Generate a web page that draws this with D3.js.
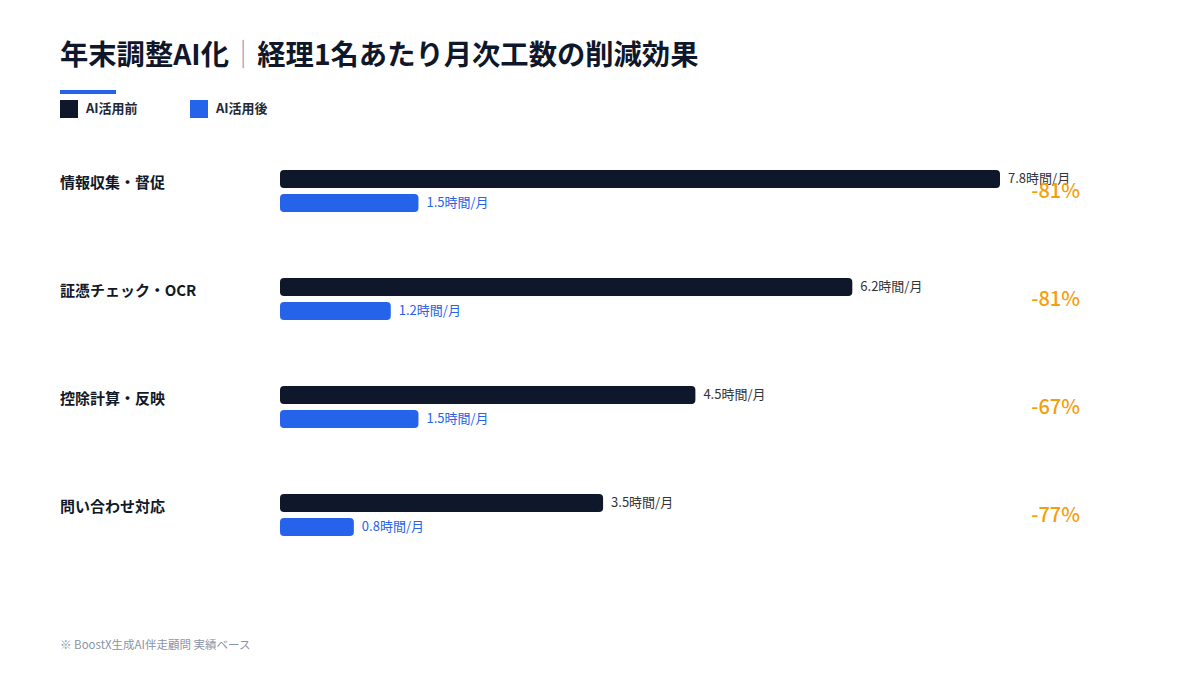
<!DOCTYPE html>
<html><head><meta charset="utf-8">
<script src="https://cdn.jsdelivr.net/npm/d3@7"></script>
<style>body{margin:0;background:#fff;} svg{display:block;font-family:"Noto Sans CJK JP","Noto Sans",sans-serif;}</style>
</head><body>
<svg id="c" width="1200" height="675"></svg>
<script>
const categories = ["情報収集・督促","証憑チェック・OCR","控除計算・反映","問い合わせ対応"];
const before = [7.8, 6.2, 4.5, 3.5];
const after = [1.5, 1.2, 1.5, 0.8];
const reduction = ["-81%","-81%","-67%","-77%"];
const seriesNames = ["AI活用前","AI活用後"];
const colors = ["#0f172a","#2563eb"];

const svg = d3.select("#c");
const t = svg.append("text").attr("x",60).attr("y",65).attr("font-size",28.3).attr("font-weight",700)
  .attr("fill","#0f172a");
t.append("tspan").text("年末調整AI化");
t.append("tspan").attr("fill","#94a3b8").attr("font-weight",400).text("｜");
t.append("tspan").text("経理1名あたり月次工数の削減効果");
svg.append("rect").attr("x",60).attr("y",90).attr("width",56).attr("height",4).attr("fill","#2563eb");

const lg = svg.append("g");
seriesNames.forEach((n,i)=>{
  const x = 60 + i*130;
  lg.append("rect").attr("x",x).attr("y",100).attr("width",18).attr("height",18).attr("fill",colors[i]);
  lg.append("text").attr("x",x+26).attr("y",113).attr("font-size",13).attr("font-weight",600).attr("fill","#1f2937").text(n);
});

const x = d3.scaleLinear().domain([0,7.8]).range([280,1000]);
const y = d3.scaleBand().domain(categories).range([170,602]).paddingInner(0).paddingOuter(0);
const barH = 18;

const rows = svg.selectAll("g.row").data(categories).join("g").attr("class","row")
  .attr("transform",d=>`translate(0,${y(d)})`);
rows.append("text").attr("x",60).attr("y",18).attr("font-size",15).attr("font-weight",700)
  .attr("fill","#111827").text(d=>d);
rows.append("rect").attr("x",x(0)).attr("y",0).attr("height",barH).attr("rx",4)
  .attr("width",(d,i)=>x(before[i])-x(0)).attr("fill",colors[0]);
rows.append("rect").attr("x",x(0)).attr("y",24).attr("height",barH).attr("rx",4)
  .attr("width",(d,i)=>x(after[i])-x(0)).attr("fill",colors[1]);
rows.append("text").attr("x",(d,i)=>x(before[i])+8).attr("y",13).attr("font-size",13)
  .attr("fill","#333").text((d,i)=>before[i].toFixed(1)+"時間/月");
rows.append("text").attr("x",(d,i)=>x(after[i])+8).attr("y",37).attr("font-size",13)
  .attr("fill","#2563eb").text((d,i)=>after[i].toFixed(1)+"時間/月");
rows.append("text").attr("x",1080).attr("y",28).attr("text-anchor","end").attr("font-size",20)
  .attr("font-weight",500).attr("fill","#f59e0b").text((d,i)=>reduction[i]);

svg.append("text").attr("x",60).attr("y",649).attr("font-size",11.5).attr("fill","#8a94a6")
  .text("※ BoostX生成AI伴走顧問 実績ベース");
</script>
</body></html>
